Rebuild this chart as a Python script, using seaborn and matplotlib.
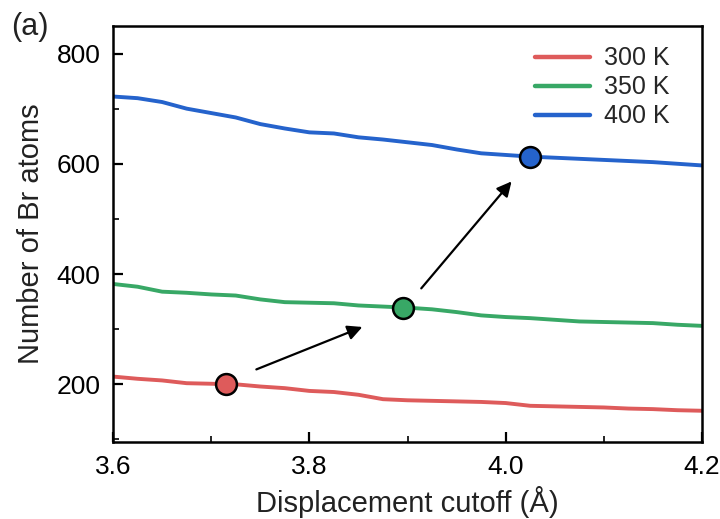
import matplotlib
matplotlib.use("Agg")
import matplotlib.pyplot as plt
from matplotlib.ticker import MultipleLocator, FormatStrFormatter
import seaborn as sns
import pandas as pd

# Displacement cutoff grid (Å)
cutoff = [3.600, 3.625, 3.650, 3.675, 3.700, 3.725, 3.750, 3.775, 3.800,
          3.825, 3.850, 3.875, 3.900, 3.925, 3.950, 3.975, 4.000, 4.025,
          4.050, 4.075, 4.100, 4.125, 4.150, 4.175, 4.200]

# Number of displaced Br atoms at each temperature
br_300 = [214, 210, 207, 202, 201, 200, 196, 193, 188, 186, 181, 173, 171,
          170, 169, 168, 166, 161, 160, 159, 158, 156, 155, 153, 152]
br_350 = [382, 377, 368, 366, 363, 361, 354, 349, 348, 347, 343, 341, 339,
          336, 331, 325, 322, 320, 317, 314, 313, 312, 311, 308, 306]
br_400 = [722, 719, 712, 700, 692, 684, 672, 664, 657, 655, 648, 644, 639,
          634, 626, 619, 616, 613, 611, 609, 607, 605, 603, 600, 597]

temps = ["300 K", "350 K", "400 K"]
colors = ["#de5b5b", "#38a866", "#2563cc"]

# Highlighted points on each curve
pt_x = [3.715, 3.895, 4.025]
pt_y = [200, 339, 613]

# Arrows linking the highlighted points (tail -> head)
arrow_tail = [(3.746, 227), (3.914, 374)]
arrow_head = [(3.854, 304), (4.006, 568)]

df = pd.DataFrame({
    "cutoff": cutoff * 3,
    "count": br_300 + br_350 + br_400,
    "T": [temps[0]] * len(cutoff) + [temps[1]] * len(cutoff) + [temps[2]] * len(cutoff),
})

sns.set_theme(style="ticks")
plt.rcParams["font.family"] = ["Liberation Sans", "DejaVu Sans"]

fig = plt.figure(figsize=(7.2, 5.19), dpi=100)
ax = fig.add_axes([0.157, 0.148, 0.818, 0.802])

sns.lineplot(data=df, x="cutoff", y="count", hue="T", hue_order=temps,
             palette=colors, linewidth=2.8, ax=ax)

for xi, yi, c in zip(pt_x, pt_y, colors):
    ax.plot([xi], [yi], marker="o", markersize=15, markerfacecolor=c,
            markeredgecolor="black", markeredgewidth=1.8, zorder=5)

for (tx, ty), (hx, hy) in zip(arrow_tail, arrow_head):
    ax.annotate("", xy=(hx, hy), xytext=(tx, ty),
                arrowprops=dict(arrowstyle="-|>", color="black", lw=1.6,
                                mutation_scale=22, shrinkA=0, shrinkB=0))

ax.set_xlim(3.6, 4.2)
ax.set_ylim(95, 850)
ax.xaxis.set_major_locator(MultipleLocator(0.2))
ax.xaxis.set_minor_locator(MultipleLocator(0.1))
ax.yaxis.set_major_locator(MultipleLocator(200))
ax.yaxis.set_minor_locator(MultipleLocator(100))
ax.xaxis.set_major_formatter(FormatStrFormatter("%.1f"))
ax.tick_params(which="major", direction="in", length=7, width=1.6,
               labelsize=19, pad=9, colors="black")
ax.tick_params(which="minor", direction="in", length=4, width=1.4)

for s in ax.spines.values():
    s.set_linewidth(1.8)
    s.set_color("black")

ax.set_xlabel("Displacement cutoff (Å)", fontsize=21, labelpad=5,
              color="#222222")
ax.set_ylabel("Number of Br atoms", fontsize=21, labelpad=8,
              color="#222222")

leg = ax.legend(loc="upper right", bbox_to_anchor=(0.983, 1.005),
                frameon=False, fontsize=18, handlelength=2.2,
                handletextpad=0.55, labelspacing=0.2, borderaxespad=0.5)
for line in leg.get_lines():
    line.set_linewidth(3.2)

fig.text(0.015, 0.932, "(a)", fontsize=22, color="#222222")

fig.savefig("out.png", dpi=100)
